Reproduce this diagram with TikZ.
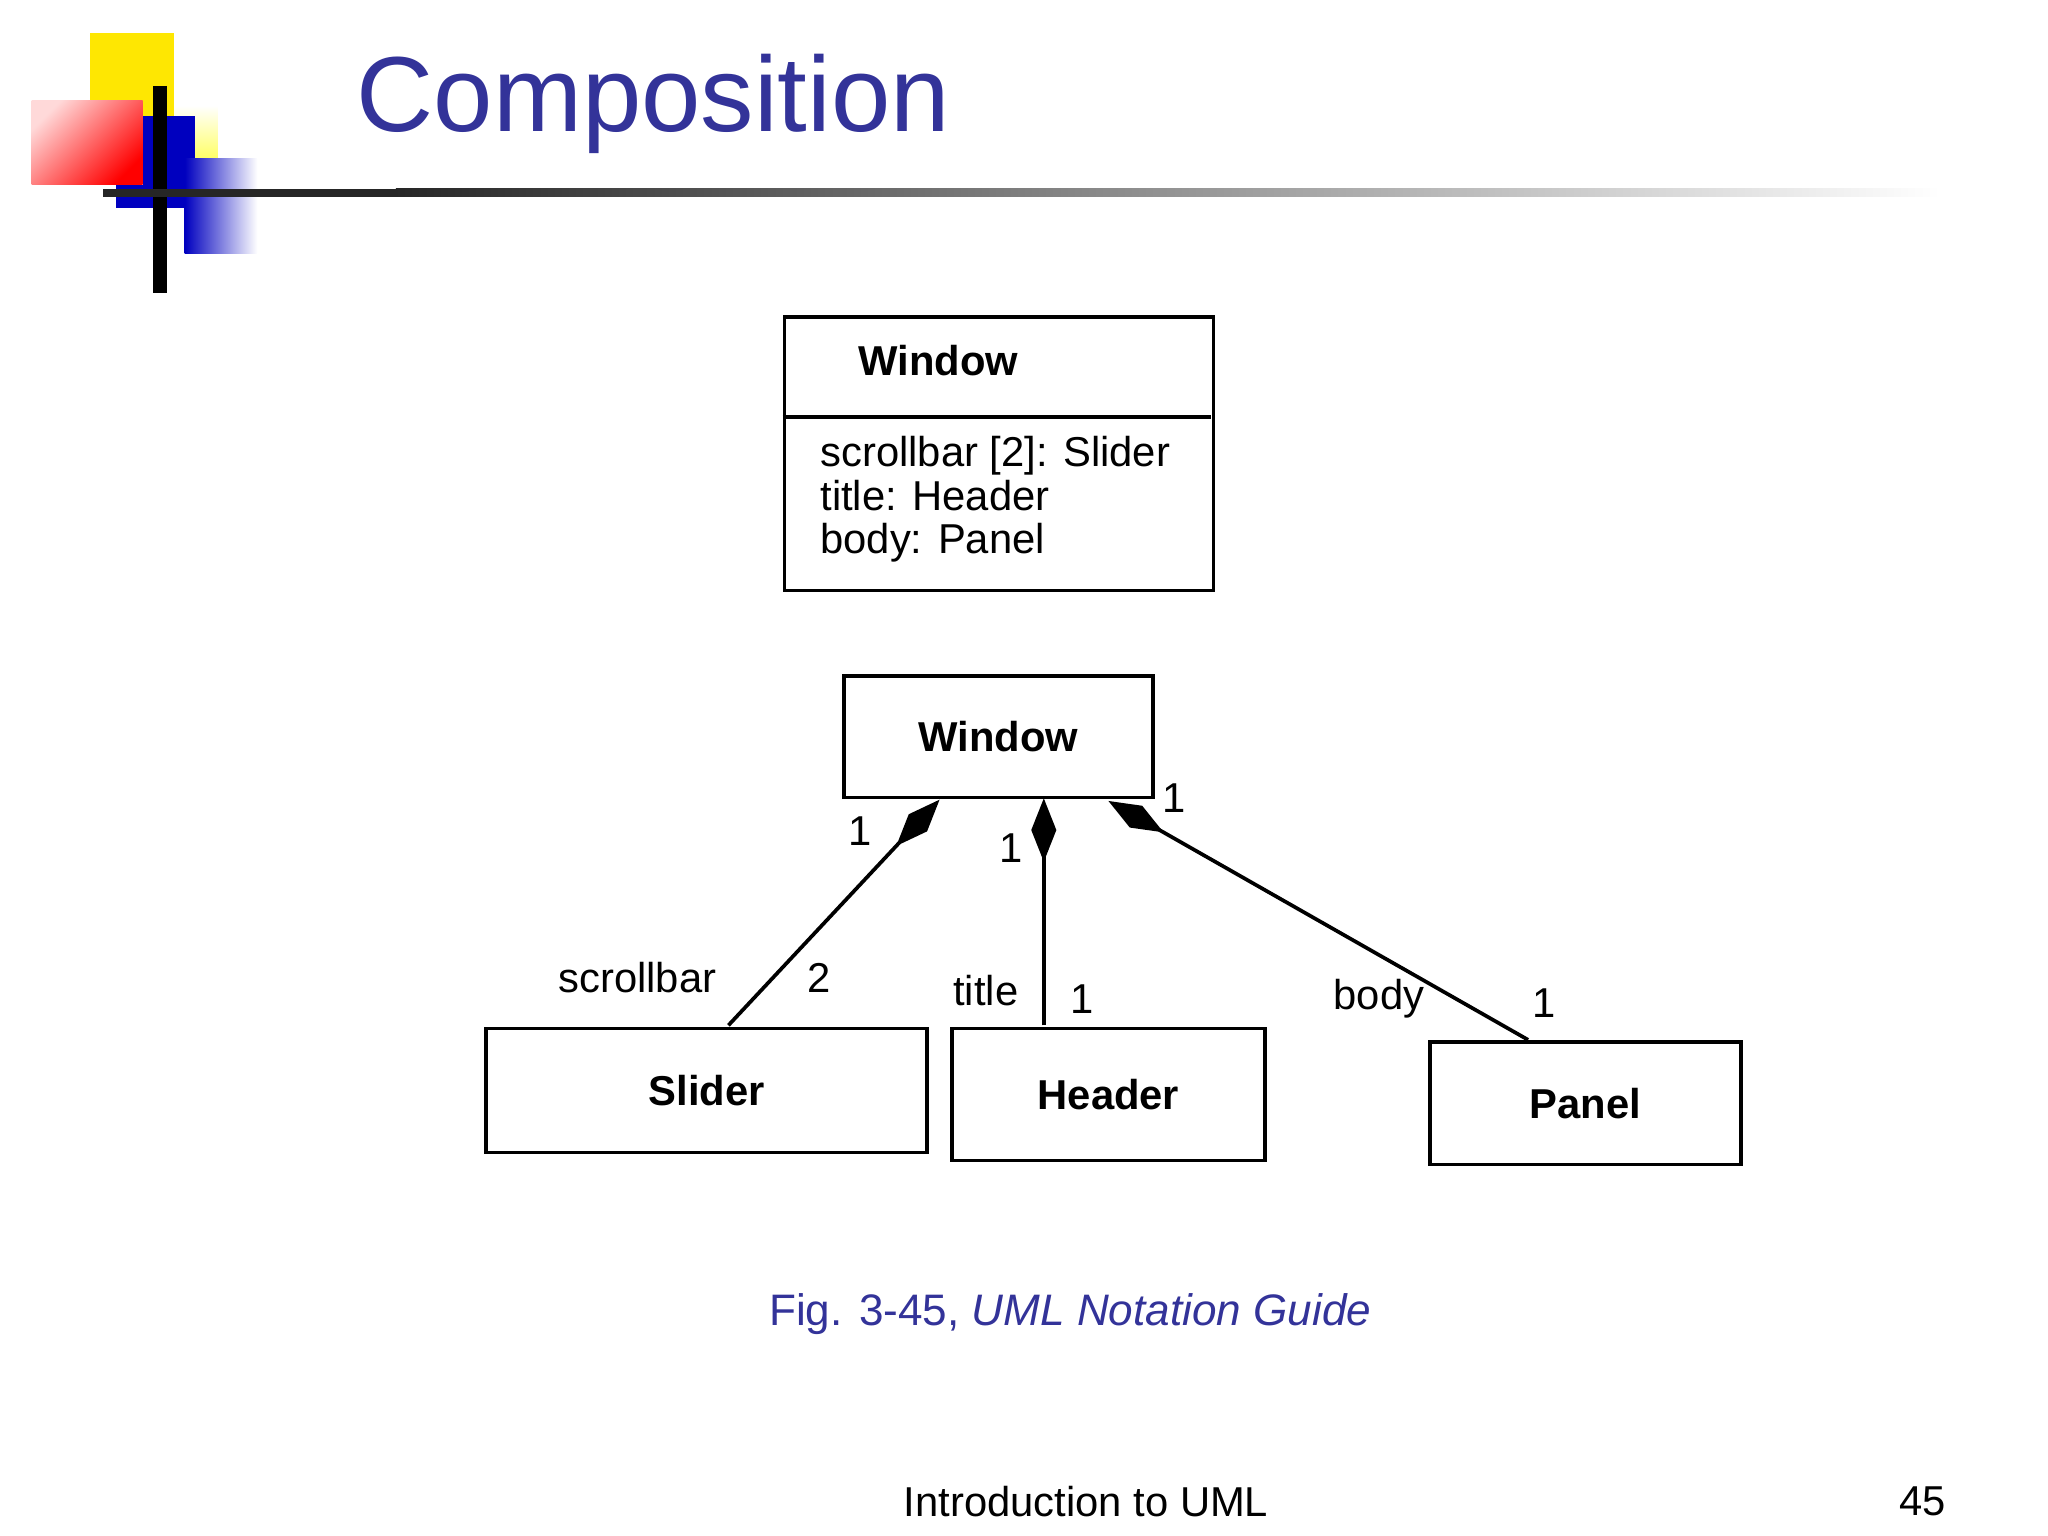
\documentclass[tikz,border=0pt]{standalone}
\usepackage{fontspec}
\setmainfont{Liberation Sans}
\usetikzlibrary{positioning}
\usetikzlibrary{arrows.meta}
\definecolor{slideblue}{RGB}{51,51,153}
\begin{document}
\begin{tikzpicture}[x=0.01cm,y=-0.01cm,
classnode/.style={rectangle, draw=black, thick, font=\bfseries\fontsize{9}{10}\selectfont, anchor=north west},
labelnode/.style={font=\fontsize{9}{10}\selectfont, inner sep=1pt},
comp/.style={thick, -{Diamond[length=0.48cm, width=0.19cm]}},
]
\useasboundingbox (0,0) rectangle (1552,1164);
%Logo
\fill[yellow!90!orange] (68,25) rectangle (132,88);
\shade[left color=white, right color=yellow!60, shading angle=0] (132,80) rectangle (165,120);
\shade[left color=red!15, right color=red, shading angle=45] (24,76) rectangle (108,140);
\fill[blue!75!black] (108,88) rectangle (148,158);
\shade[left color=blue!75!black, right color=white] (140,120) rectangle (195,192);
\fill[blue!75!black] (88,140) rectangle (140,158);
\draw[line width=3pt] (121,65) -- (121,222);
\shade[left color=black!85, right color=white] (300,143) rectangle (1470,149);
\fill[black!85] (78,143) rectangle (300,149);
\node[text=slideblue, font=\fontsize{23}{26}\selectfont, anchor=base west] (title) at (258,100) {Composition};

%Nodes
\node[draw, thick, minimum width=3.25cm, minimum height=2.07cm, anchor=north west] (cls) at (593,239) {};
\draw[thick] (593,316) -- (918,316);
\node[font=\bfseries\fontsize{9}{10}\selectfont, anchor=west] (clsname) at (638,273) {Window};
\node[font=\fontsize{9}{9.4}\selectfont, anchor=north west, align=left, inner sep=0pt] (attrs) at (621,330) {scrollbar [2]: Slider\\title: Header\\body: Panel};
\node[classnode, minimum width=2.34cm, minimum height=0.92cm] (window) at (638,511) {Window};
\node[classnode, minimum width=3.34cm, minimum height=0.94cm] (slider) at (367,778) {Slider};
\node[classnode, minimum width=2.37cm, minimum height=1.00cm] (header) at (720,778) {Header};
\node[classnode, minimum width=2.36cm, minimum height=0.93cm] (panel) at (1082,788) {Panel};
\coordinate (wa) at (712,606);
\coordinate (wb) at (791,605);
\coordinate (wc) at (840,607);
\coordinate (sa) at (552,777);
\coordinate (hb) at (791,777);
\coordinate (pc) at (1158,788);

%Lines
\draw[comp] (sa) -- (wa);
\draw[comp] (hb) -- (wb);
\draw[comp] (pc) -- (wc);

%Labels
\node[labelnode] at (652,630) {1};
\node[labelnode] at (483,741) {scrollbar};
\node[labelnode] at (621,741) {2};
\node[labelnode] at (766,643) {1};
\node[labelnode] at (747,751) {title};
\node[labelnode] at (820,757) {1};
\node[labelnode] at (890,605) {1};
\node[labelnode] at (1045,757) {body};
\node[labelnode] at (1170,760) {1};

\node[text=slideblue, font=\fontsize{9.5}{11}\selectfont] (caption) at (811,996) {Fig. 3-45, \textit{UML Notation Guide}};
\node[font=\fontsize{9}{10}\selectfont] (footer) at (823,1138) {Introduction to UML};
\node[font=\fontsize{9}{10}\selectfont] (page) at (1457,1138) {45};
\end{tikzpicture}
\end{document}
